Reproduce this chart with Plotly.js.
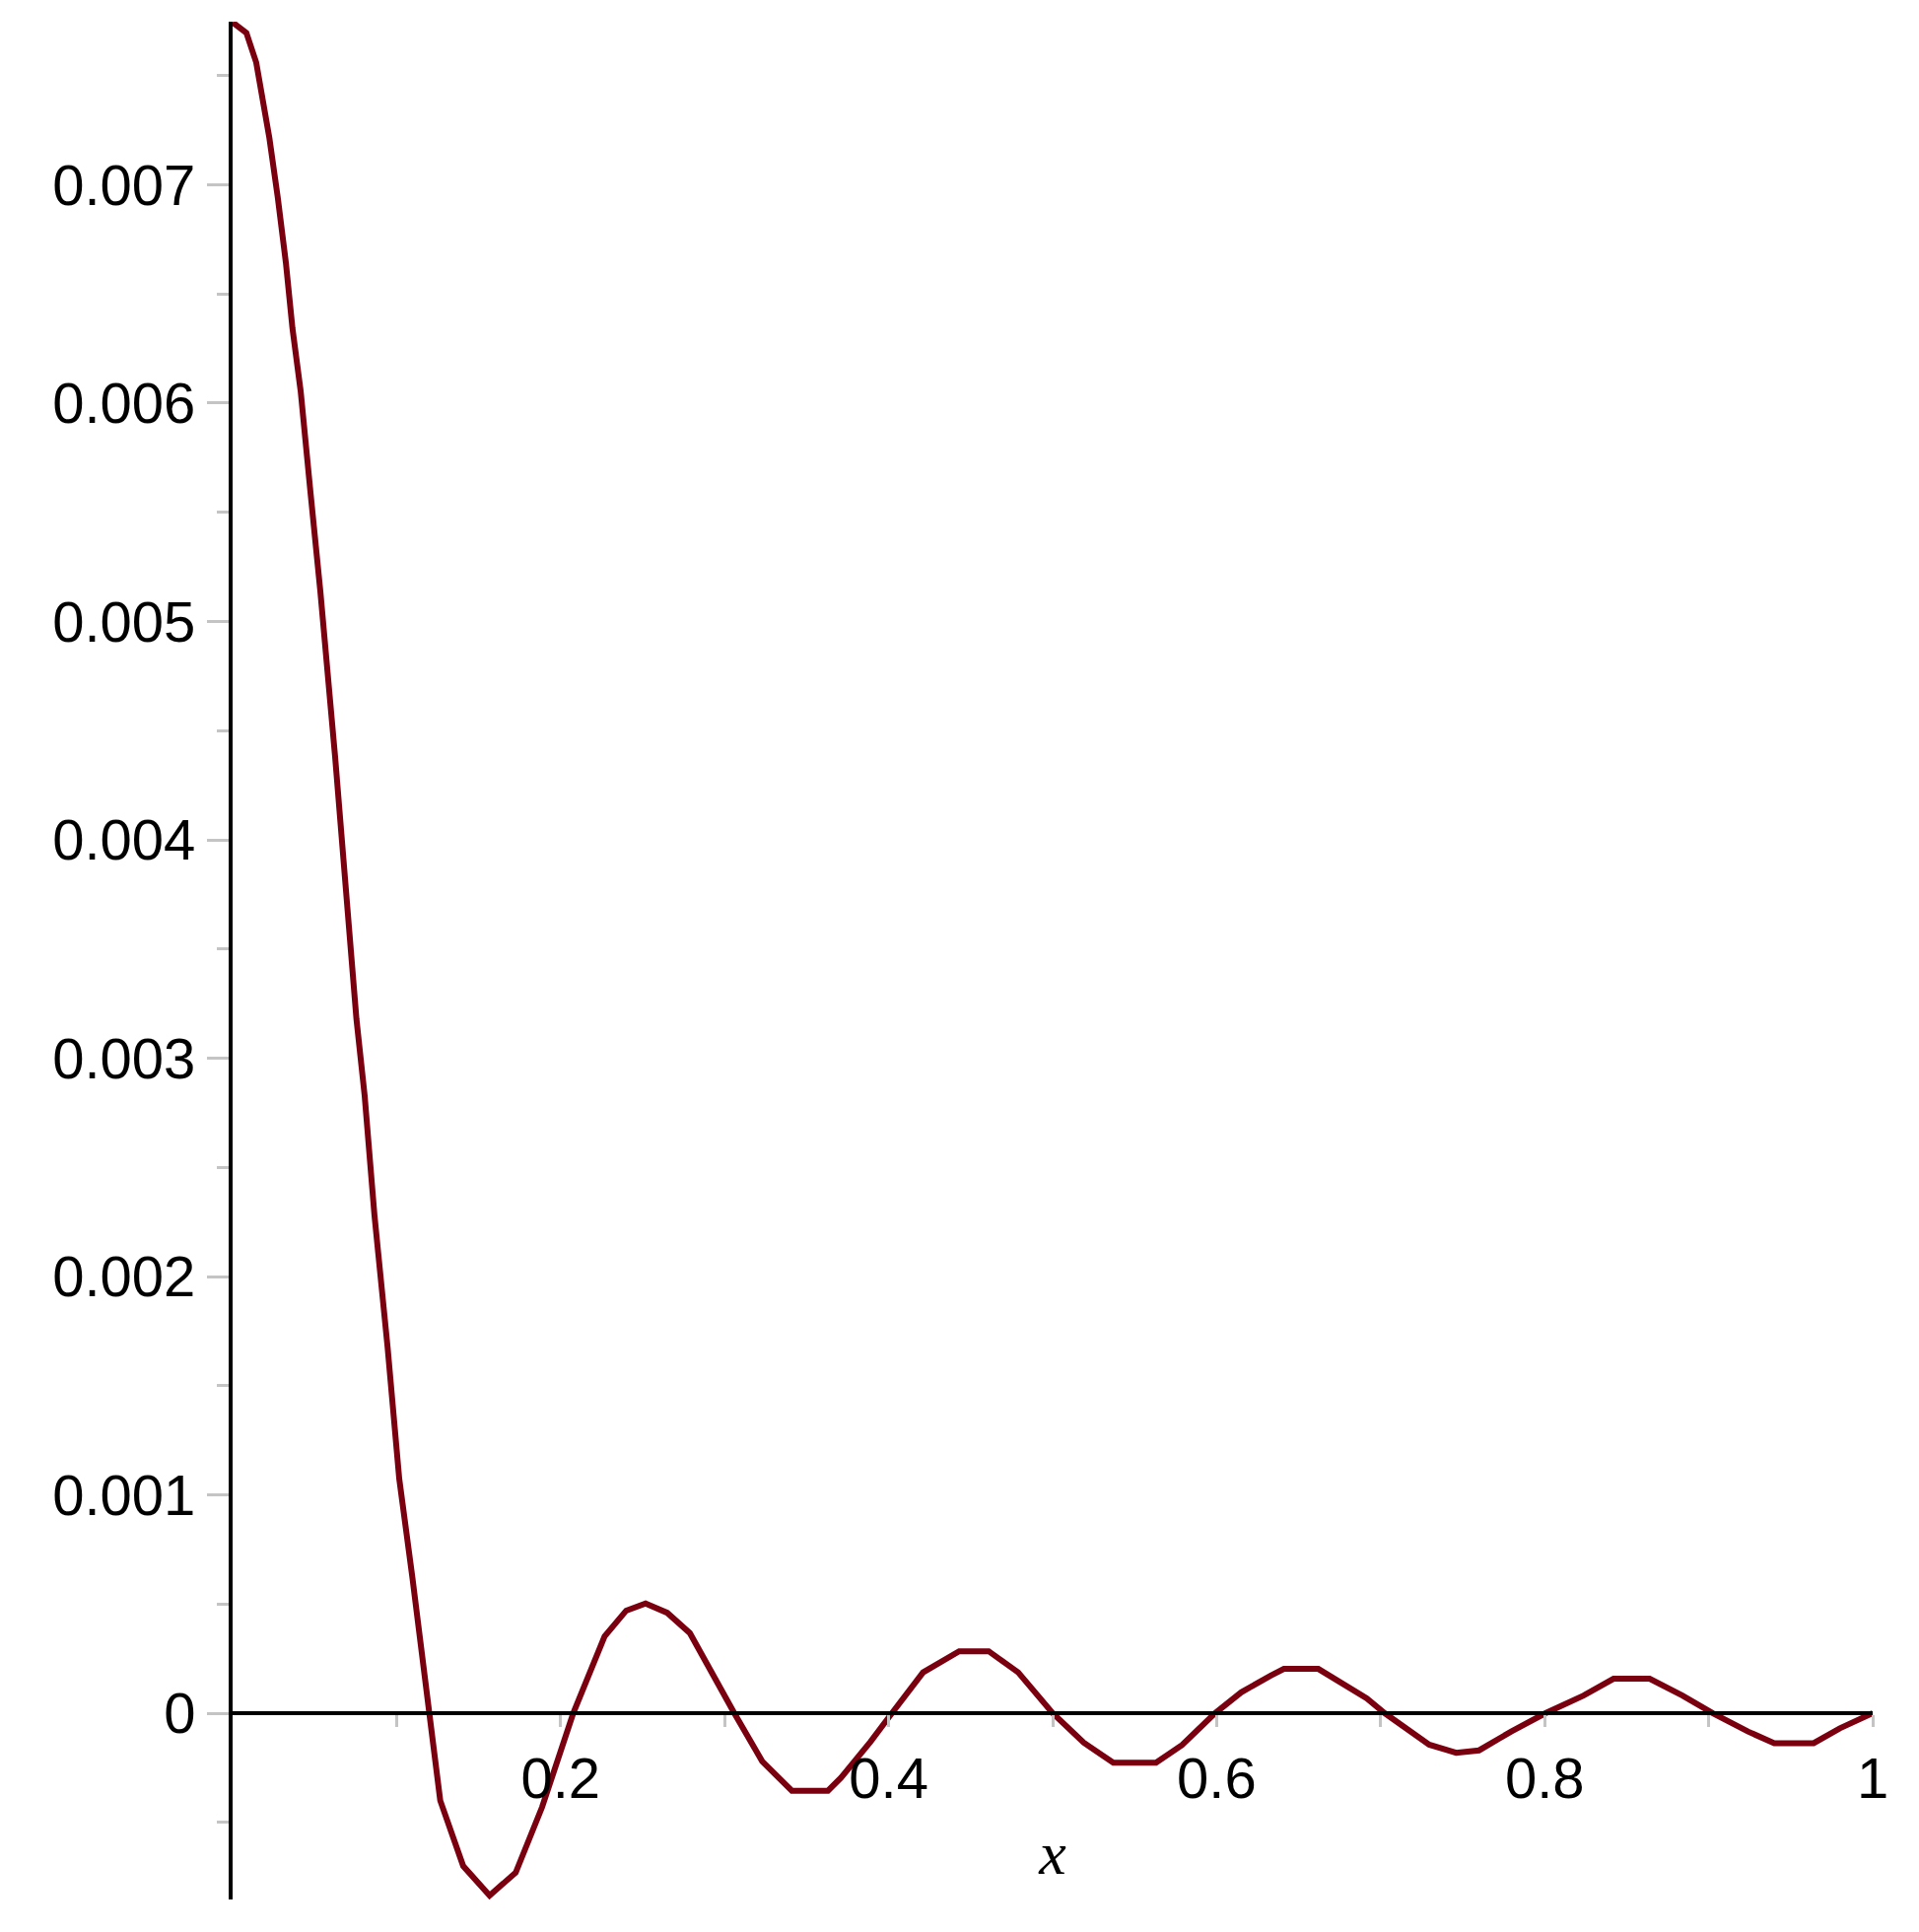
<!DOCTYPE html>
<html>
<head>
<meta charset="utf-8">
<script src="https://cdn.plot.ly/plotly-3.0.1.min.js"></script>
<style>
    body{
        margin:0;
        background:#ffffff;
    }
    #grafica{
        width:1947px;
        height:1960px;
    }
</style>
</head>
<body>

<div id="grafica"></div>

<script>

// =========================
// DATOS
// =========================

let xValores = [
    0.000, 0.0084, 0.0144, 0.0184, 0.0224, 0.0275, 0.0325, 0.0365,
    0.0415, 0.0475, 0.0535, 0.0625, 0.0649, 0.0705, 0.0755, 0.0805,
    0.0865, 0.0945, 0.1016, 0.1096, 0.1196, 0.1266, 0.1406, 0.1567,
    0.1726, 0.1887, 0.2077, 0.2268, 0.240, 0.2518, 0.265, 0.2788,
    0.3059, 0.3229, 0.341, 0.363, 0.371, 0.389, 0.402, 0.421,
    0.443, 0.461, 0.479, 0.500, 0.519, 0.537, 0.563, 0.579,
    0.599, 0.615, 0.633, 0.641, 0.662, 0.675, 0.6915, 0.7025,
    0.7296, 0.746, 0.760, 0.7796, 0.8005, 0.8237, 0.842, 0.864,
    0.884, 0.9026, 0.924, 0.940, 0.964, 0.980, 1.000
];

// valores en milesimas (se multiplican por 0.001 abajo)
let yMilesimas = [
    7.744, 7.696, 7.56, 7.395, 7.215, 6.944, 6.642, 6.342,
    6.055, 5.59, 5.138, 4.38, 4.15, 3.634, 3.18, 2.83,
    2.28, 1.676, 1.074, 0.623, 0, -0.40, -0.70, -0.835,
    -0.73, -0.43, 0, 0.352, 0.47, 0.5025, 0.46, 0.367,
    0, -0.22, -0.355, -0.355, -0.295, -0.13, 0, 0.187,
    0.284, 0.284, 0.187, 0, -0.135, -0.227, -0.227, -0.145,
    0, 0.096, 0.172, 0.203, 0.203, 0.141, 0.068, 0,
    -0.144, -0.181, -0.17, -0.084, 0, 0.081, 0.158, 0.158,
    0.081, 0, -0.084, -0.137, -0.137, -0.069, 0
];

let yValores = yMilesimas.map(v => v * 0.001);

let xTicks = [0.1, 0.2, 0.3, 0.4, 0.5, 0.6, 0.7, 0.8, 0.9, 1];
let xEtiquetas = ["", "0.2", "", "0.4", "", "0.6", "", "0.8", "", "1"];

let yTicks = [0, 0.001, 0.002, 0.003, 0.004, 0.005, 0.006, 0.007];
let yEtiquetas = ["0", "0.001", "0.002", "0.003", "0.004", "0.005", "0.006", "0.007"];

// =========================
// RANGO Y POSICION DEL EJE X
// =========================

let yMin = -0.000853;
let yMax = 0.007747;

let posicionEjeX = (0 - yMin) / (yMax - yMin);

const gris = "#c4c4c4";

const fuente = {
    family:"Liberation Sans, Arial, sans-serif",
    size:58,
    color:"#000000"
};

// =========================
// GRAFICA
// =========================

let datos = [{
    x:xValores,
    y:yValores,
    type:"scatter",
    mode:"lines",
    line:{
        color:"#7a0010",
        width:6
    },
    hoverinfo:"skip"
}];

let layout = {
    width:1947,
    height:1960,
    margin:{l:236, r:47, t:22, b:33},
    paper_bgcolor:"#ffffff",
    plot_bgcolor:"#ffffff",
    showlegend:false,
    font:fuente,

    xaxis:{
        range:[0, 1],
        anchor:"free",
        position:posicionEjeX,
        showgrid:false,
        zeroline:false,
        showline:true,
        linecolor:"#000000",
        linewidth:4,
        ticks:"outside",
        ticklen:12,
        tickwidth:3,
        tickcolor:gris,
        tickmode:"array",
        tickvals:xTicks,
        ticktext:xEtiquetas,
        ticklabelstandoff:2,
        tickfont:fuente,
        title:{
            text:"x",
            standoff:22,
            font:{
                family:"Liberation Serif, serif",
                size:62,
                style:"italic",
                color:"#000000"
            }
        }
    },

    yaxis:{
        range:[yMin, yMax],
        showgrid:false,
        zeroline:false,
        showline:true,
        linecolor:"#000000",
        linewidth:4,
        ticks:"outside",
        ticklen:22,
        tickwidth:3,
        tickcolor:gris,
        tickmode:"array",
        tickvals:yTicks,
        ticktext:yEtiquetas,
        tickfont:fuente,
        minor:{
            tick0:0,
            dtick:0.0005,
            ticks:"outside",
            ticklen:12,
            tickwidth:3,
            tickcolor:gris,
            showgrid:false
        }
    }
};

Plotly.newPlot("grafica", datos, layout, {staticPlot:true, displayModeBar:false});

</script>
</body>
</html>
